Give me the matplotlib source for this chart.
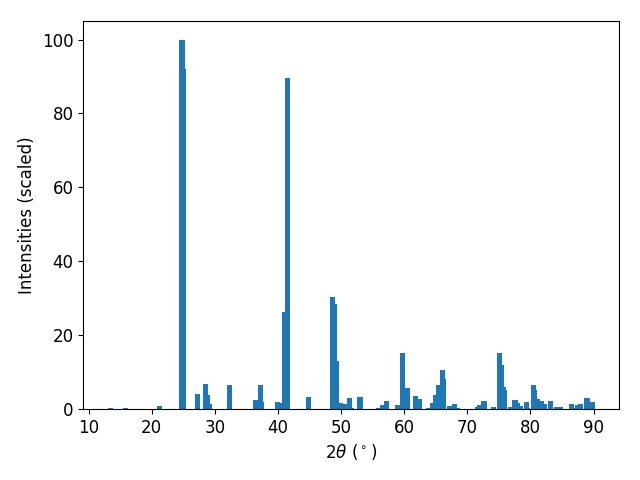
import matplotlib
matplotlib.use("Agg")
import matplotlib.pyplot as plt

# positions des pics (2theta, degres) et intensites relatives
two_theta = [13.4, 15.9, 21.2, 24.8, 25.0, 27.2, 28.46, 28.77, 29.09, 32.3,
             36.4, 37.17, 37.33, 40.0, 40.2, 40.97, 41.45, 44.9, 48.57, 48.89,
             49.2, 49.84, 50.16, 50.48, 51.27, 51.7, 53.0, 55.9, 56.5, 57.13,
             58.87, 59.66, 60.46, 61.72, 62.36, 63.8, 64.42, 64.89, 65.37, 66.0,
             66.16, 67.11, 67.9, 68.45, 71.7, 71.9, 72.65, 72.8, 74.08, 75.03,
             75.35, 75.67, 75.82, 76.8, 77.56, 77.88, 78.36, 79.31, 79.6, 80.42,
             80.57, 81.05, 81.68, 82.3, 83.11, 84.2, 84.7, 86.44, 87.15, 87.4,
             88.0, 88.97, 89.76]
intensities = [0.3, 0.3, 0.9, 100.0, 92.1, 4.1, 6.8, 3.8, 1.4, 6.5,
               2.4, 6.5, 1.9, 1.9, 1.6, 26.2, 89.7, 3.3, 30.2, 28.5,
               13.0, 1.6, 1.1, 1.4, 3.0, 0.3, 3.3, 0.3, 1.1, 2.2,
               1.1, 15.2, 5.7, 3.5, 2.7, 0.3, 1.6, 3.8, 6.5, 10.6,
               8.1, 0.8, 1.4, 0.3, 0.5, 1.1, 2.2, 2.2, 0.5, 15.2,
               12.0, 6.0, 5.2, 0.5, 2.4, 1.6, 0.8, 1.9, 0.3, 6.5,
               5.2, 2.7, 2.2, 1.4, 2.2, 0.5, 0.5, 1.4, 0.3, 1.1,
               1.4, 3.0, 1.9]

fig, ax = plt.subplots(figsize=(6.4, 4.8), dpi=100)
ax.bar(two_theta, intensities)
ax.set_xlabel(r'$2\theta$ ($^\circ$)', fontsize=12)
ax.set_ylabel('Intensities (scaled)', fontsize=12)
ax.tick_params(labelsize=12)
fig.subplots_adjust(left=0.13, right=0.967, top=0.956, bottom=0.148)
fig.savefig('out.png')
